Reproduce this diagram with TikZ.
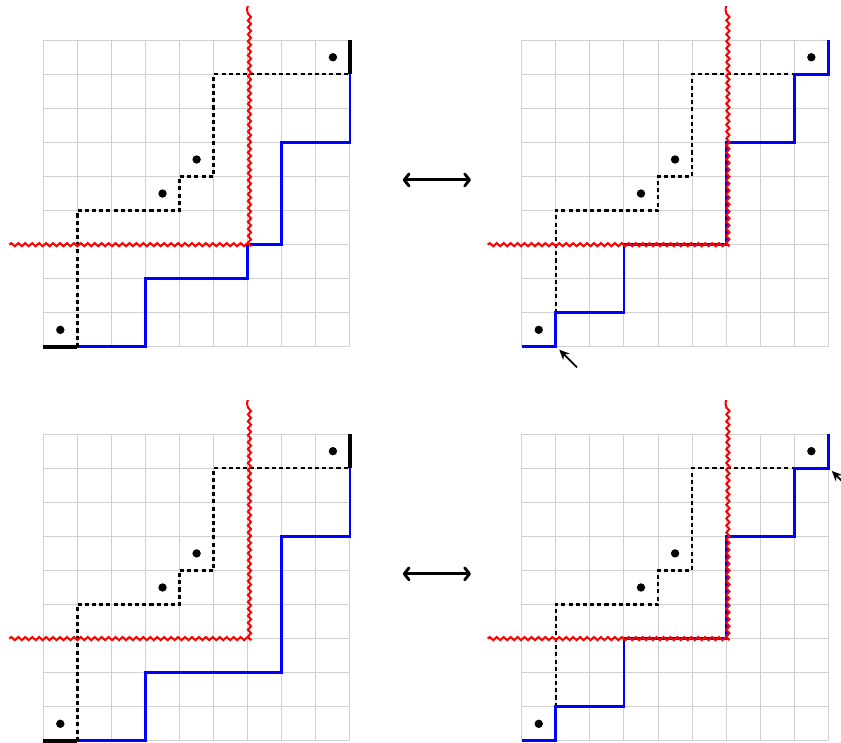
\documentclass[tikz,border=0pt]{standalone}
\usetikzlibrary{decorations.pathmorphing,arrows.meta}
\begin{document}
\begin{tikzpicture}[x=1cm,y=1cm,
  gridline/.style={draw=black!18, line width=0.8pt},
  bluepath/.style={draw=blue, line width=2.4pt},
  dotpath/.style={draw=black, line width=2pt, dash pattern=on 3.4pt off 2.6pt},
  blackseg/.style={draw=black, line width=3.4pt},
  redsnake/.style={draw=red, line width=1.7pt, decorate, decoration={snake, segment length=5.8pt, amplitude=1.3pt}},
  dotmark/.style={circle, fill=black, inner sep=0pt, minimum size=7pt},
  ptr/.style={-{Stealth[length=8.5pt,width=7.5pt]}, line width=1.5pt},
  dblarrow/.style={{Straight Barb[length=4pt,width=10pt,round]}-{Straight Barb[length=4pt,width=10pt,round]}, line width=2.4pt}]
\useasboundingbox (-1.27,-11.60) rectangle (23.41,10.18);

% ---------- top left ----------
\begin{scope}[shift={(0,0)}]
  \draw[gridline] (0,0) grid (9,9);
  \draw[bluepath] (1,0) -- (3,0) -- (3,2) -- (6,2) -- (6,3) -- (7,3) -- (7,6) -- (9,6) -- (9,8);
  \draw[dotpath] (1,0) -- (1,4) -- (4,4) -- (4,5) -- (5,5) -- (5,8) -- (9,8);
  \draw[blackseg] (0,0) -- (1,0);
  \draw[blackseg] (9,8) -- (9,9);
  \draw[redsnake] (-1,3) -- (6,3) -- (6,10);
  \node[dotmark] (tla) at (0.5,0.5) {};
  \node[dotmark] (tlb) at (3.5,4.5) {};
  \node[dotmark] (tlc) at (4.5,5.5) {};
  \node[dotmark] (tld) at (8.5,8.5) {};
\end{scope}

% ---------- top right ----------
\begin{scope}[shift={(14.04,0)}]
  \draw[gridline] (0,0) grid (9,9);
  \draw[dotpath] (1,1) -- (1,4) -- (4,4) -- (4,5) -- (5,5) -- (5,8) -- (8,8);
  \draw[bluepath] (0,0) -- (1,0) -- (1,1) -- (3,1) -- (3,3) -- (6,3) -- (6,6) -- (8,6) -- (8,8) -- (9,8) -- (9,9);
  \draw[redsnake] (-1,3) -- (6,3) -- (6,10);
  \node[dotmark] (tra) at (0.5,0.5) {};
  \node[dotmark] (trb) at (3.5,4.5) {};
  \node[dotmark] (trc) at (4.5,5.5) {};
  \node[dotmark] (trd) at (8.5,8.5) {};
  \coordinate (trtail) at (1.62,-0.6);
  \coordinate (trhead) at (1.1,-0.08);
  \draw[ptr] (trtail) -- (trhead);
\end{scope}

% ---------- bottom left ----------
\begin{scope}[shift={(0,-11.56)}]
  \draw[gridline] (0,0) grid (9,9);
  \draw[bluepath] (1,0) -- (3,0) -- (3,2) -- (7,2) -- (7,6) -- (9,6) -- (9,8);
  \draw[dotpath] (1,0) -- (1,4) -- (4,4) -- (4,5) -- (5,5) -- (5,8) -- (9,8);
  \draw[blackseg] (0,0) -- (1,0);
  \draw[blackseg] (9,8) -- (9,9);
  \draw[redsnake] (-1,3) -- (6,3) -- (6,10);
  \node[dotmark] (bla) at (0.5,0.5) {};
  \node[dotmark] (blb) at (3.5,4.5) {};
  \node[dotmark] (blc) at (4.5,5.5) {};
  \node[dotmark] (bld) at (8.5,8.5) {};
\end{scope}

% ---------- bottom right ----------
\begin{scope}[shift={(14.04,-11.56)}]
  \draw[gridline] (0,0) grid (9,9);
  \draw[dotpath] (1,1) -- (1,4) -- (4,4) -- (4,5) -- (5,5) -- (5,8) -- (8,8);
  \draw[bluepath] (0,0) -- (1,0) -- (1,1) -- (3,1) -- (3,3) -- (6,3) -- (6,6) -- (8,6) -- (8,8) -- (9,8) -- (9,9);
  \draw[redsnake] (-1,3) -- (6,3) -- (6,10);
  \node[dotmark] (bra) at (0.5,0.5) {};
  \node[dotmark] (brb) at (3.5,4.5) {};
  \node[dotmark] (brc) at (4.5,5.5) {};
  \node[dotmark] (brd) at (8.5,8.5) {};
  \coordinate (brtail) at (9.62,7.4);
  \coordinate (brhead) at (9.1,7.92);
  \draw[ptr] (brtail) -- (brhead);
\end{scope}

% ---------- double arrows ----------
\coordinate (ta) at (10.55,4.9);
\coordinate (tb) at (12.55,4.9);
\draw[dblarrow] (ta) -- (tb);
\coordinate (ba) at (10.55,-6.66);
\coordinate (bb) at (12.55,-6.66);
\draw[dblarrow] (ba) -- (bb);
\end{tikzpicture}
\end{document}
